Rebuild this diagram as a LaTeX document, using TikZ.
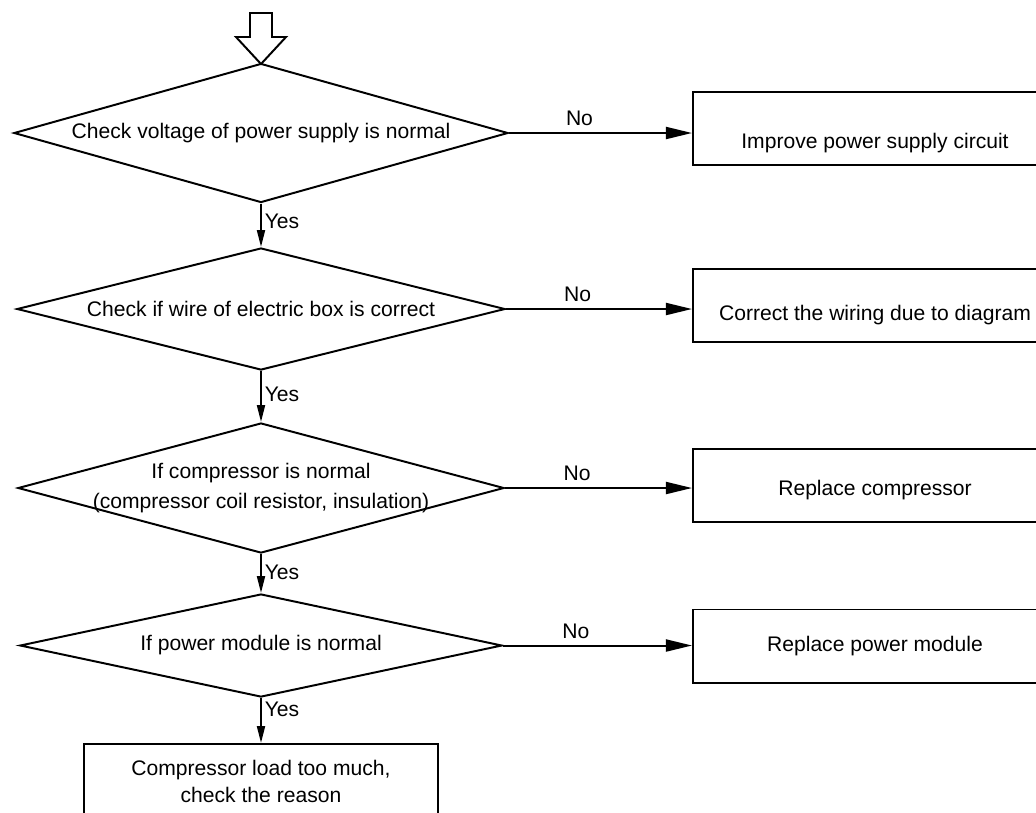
\documentclass[tikz,border=0pt]{standalone}
\usepackage{fontspec}
\setmainfont{Liberation Sans}
\usetikzlibrary{shapes.geometric,arrows.meta}

\tikzset{
  decision/.style={diamond, draw, line width=1.4pt, inner sep=0pt},
  action/.style={rectangle, draw, line width=1.4pt, minimum width=9.1cm, minimum height=1.825cm},
  yesline/.style={draw, line width=1.4pt, -{Triangle[length=0.425cm,width=0.2cm]}},
  noline/.style={draw, line width=1.4pt, -{Triangle[length=0.65cm,width=0.3cm]}},
  yeslabel/.style={right, inner sep=2pt},
  nolabel/.style={above, inner sep=4.5pt, pos=0.385}
}

\begin{document}
\begin{tikzpicture}[x=0.025cm, y=-0.025cm, font=\fontsize{15pt}{18pt}\selectfont]
  \useasboundingbox (0,0) rectangle (1036,812);
  \clip (0,0) rectangle (1036,812);

  % Start arrow
  \draw[line width=1.4pt] (250,13) -- (272,13) -- (272,37) -- (286,37) -- (261,64)
    -- (236,37) -- (250,37) -- cycle;

  % Decisions
  \node[decision, minimum width=12.35cm, minimum height=3.475cm,
    label=center:{Check voltage of power supply is normal}] (volt) at (261,133) {};
  \node[decision, minimum width=12.2cm, minimum height=3.05cm,
    label=center:{Check if wire of electric box is correct}] (wire) at (261,309) {};
  \node[decision, minimum width=12.15cm, minimum height=3.25cm,
    label={[align=center, font=\fontsize{15pt}{22pt}\selectfont]center:If compressor is normal\\(compressor coil resistor, insulation)}] (comp) at (261,488) {};
  \node[decision, minimum width=12.05cm, minimum height=2.575cm,
    label=center:{If power module is normal}] (module) at (261,645.5) {};

  % Actions
  \node[action, label={[yshift=-0.3625cm]center:Improve power supply circuit}] (fixvolt) at (875,128.5) {};
  \node[action, label={[yshift=-0.2375cm]center:Correct the wiring due to diagram}] (fixwire) at (875,305.5) {};
  \node[action, label={[yshift=-0.1125cm]center:Replace compressor}] (fixcomp) at (875,485.5) {};
  \node[action, label=center:{Replace power module}] (fixmodule) at (875,646) {};
  \node[draw, line width=1.4pt, minimum width=8.85cm, minimum height=1.875cm, align=center,
    font=\fontsize{15pt}{19pt}\selectfont] (load) at (261,781.5) {Compressor load too much,\\check the reason};

  % Yes branches
  \draw[yesline] (volt.south) -- node[yeslabel, pos=0.42] {Yes} (wire.north);
  \draw[yesline] (wire.south) -- node[yeslabel, pos=0.45] {Yes} (comp.north);
  \draw[yesline] (comp.south) -- node[yeslabel, pos=0.48] {Yes} (module.north);
  \draw[yesline] (module.south) -- node[yeslabel, pos=0.25] {Yes} (load.north);

  % No branches
  \draw[noline] (volt.east) -- node[nolabel] {No} (volt.east -| fixvolt.west);
  \draw[noline] (wire.east) -- node[nolabel] {No} (wire.east -| fixwire.west);
  \draw[noline] (comp.east) -- node[nolabel] {No} (comp.east -| fixcomp.west);
  \draw[noline] (module.east) -- node[nolabel] {No} (module.east -| fixmodule.west);
\end{tikzpicture}
\end{document}
